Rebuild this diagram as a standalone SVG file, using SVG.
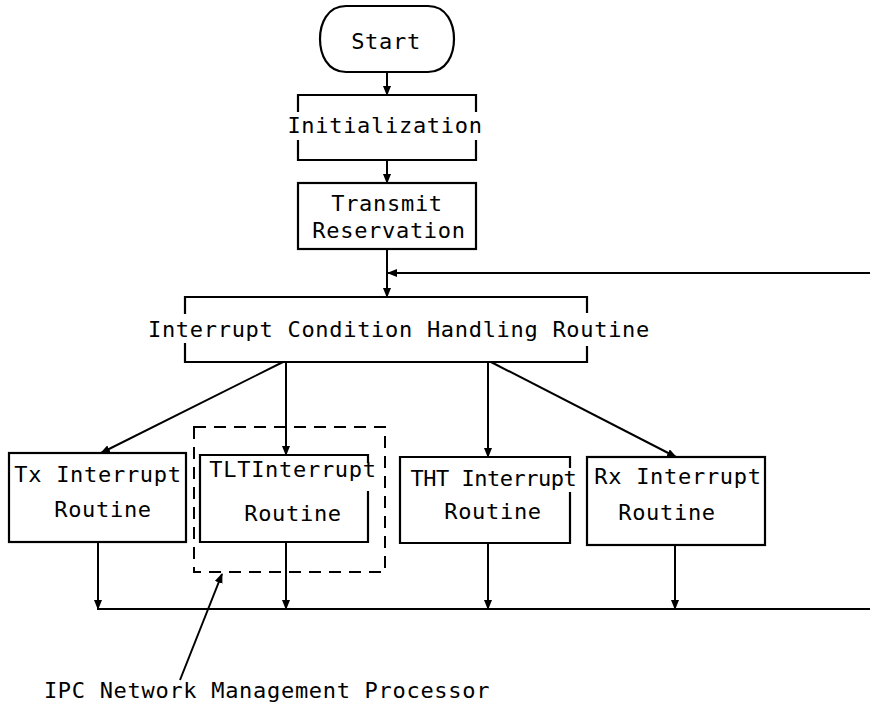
<svg xmlns="http://www.w3.org/2000/svg" width="870" height="703" viewBox="0 0 870 703">
  <style>
    .ln { fill: none; stroke: #000; stroke-width: 2; }
    .box { fill: none; stroke: #000; stroke-width: 2.2; }
    .dash { fill: none; stroke: #000; stroke-width: 2; stroke-dasharray: 12 8; }
    text { font-family: "DejaVu Sans Mono", "Liberation Mono", monospace; font-size: 22px; letter-spacing: 0.7px; fill: #000; text-anchor: middle; }
  </style>
  <defs>
    <marker id="ah" markerWidth="10" markerHeight="8" refX="9" refY="4" orient="auto" markerUnits="userSpaceOnUse">
      <path d="M0,0 L10,4 L0,8 Z" fill="#000"/>
    </marker>
  </defs>

  <rect width="870" height="703" fill="#fff"/>

  <g id="start">
    <path class="box" d="M346,6 H428 C447,6 454,24 454,39 C454,54 447,72 428,72 H346 C327,72 320,54 320,39 C320,24 327,6 346,6 Z"/>
    <text x="386" y="49">Start</text>
  </g>

  <g id="init">
    <path class="box" d="M298,112 V95 H476 V112 M476,140 V160 H298 V140"/>
    <text x="385" y="133">Initialization</text>
  </g>

  <g id="transmit">
    <rect class="box" x="298" y="183" width="178" height="66"/>
    <text x="387" y="211">Transmit</text>
    <text x="389" y="238">Reservation</text>
  </g>

  <g id="ichr">
    <path class="box" d="M185,314 V297 H587 V313 M587,346 V362 H185 V343"/>
    <text x="399" y="337">Interrupt Condition Handling Routine</text>
  </g>

  <g id="tx">
    <rect class="box" x="9" y="453" width="177" height="89"/>
    <text x="98" y="482">Tx Interrupt</text>
    <text x="103" y="517">Routine</text>
  </g>

  <g id="tlt">
    <path class="box" d="M368,463 V455 H200 V542 H368 V491"/>
    <text x="293" y="477">TLTInterrupt</text>
    <text x="293" y="521">Routine</text>
  </g>

  <g id="tht">
    <path class="box" d="M570,468 V457 H400 V543 H570 V492"/>
    <text x="494" y="486" textLength="167" lengthAdjust="spacing">THT Interrupt</text>
    <text x="493" y="519">Routine</text>
  </g>

  <g id="rx">
    <rect class="box" x="587" y="457" width="178" height="88"/>
    <text x="678" y="484">Rx Interrupt</text>
    <text x="667" y="520">Routine</text>
  </g>

  <g id="nmp">
    <rect class="dash" x="194" y="427" width="191" height="145"/>
    <text x="267" y="698">IPC Network Management Processor</text>
  </g>

  <g id="connectors">
    <line class="ln" x1="387" y1="72" x2="387" y2="95" marker-end="url(#ah)"/>
    <line class="ln" x1="387" y1="160" x2="387" y2="183" marker-end="url(#ah)"/>
    <line class="ln" x1="387" y1="249" x2="387" y2="297" marker-end="url(#ah)"/>
    <line class="ln" x1="870" y1="273" x2="388" y2="273" marker-end="url(#ah)"/>

    <line class="ln" x1="283" y1="362" x2="101" y2="453" marker-end="url(#ah)"/>
    <line class="ln" x1="286" y1="362" x2="286" y2="455" marker-end="url(#ah)"/>
    <line class="ln" x1="488" y1="362" x2="488" y2="457" marker-end="url(#ah)"/>
    <line class="ln" x1="491" y1="362" x2="676" y2="457" marker-end="url(#ah)"/>

    <line class="ln" x1="98" y1="542" x2="98" y2="609" marker-end="url(#ah)"/>
    <line class="ln" x1="286" y1="542" x2="286" y2="609" marker-end="url(#ah)"/>
    <line class="ln" x1="488" y1="543" x2="488" y2="609" marker-end="url(#ah)"/>
    <line class="ln" x1="675" y1="545" x2="675" y2="609" marker-end="url(#ah)"/>
    <line class="ln" x1="97" y1="609" x2="870" y2="609"/>

    <line class="ln" x1="180" y1="680" x2="222" y2="574" marker-end="url(#ah)"/>
  </g>
</svg>
